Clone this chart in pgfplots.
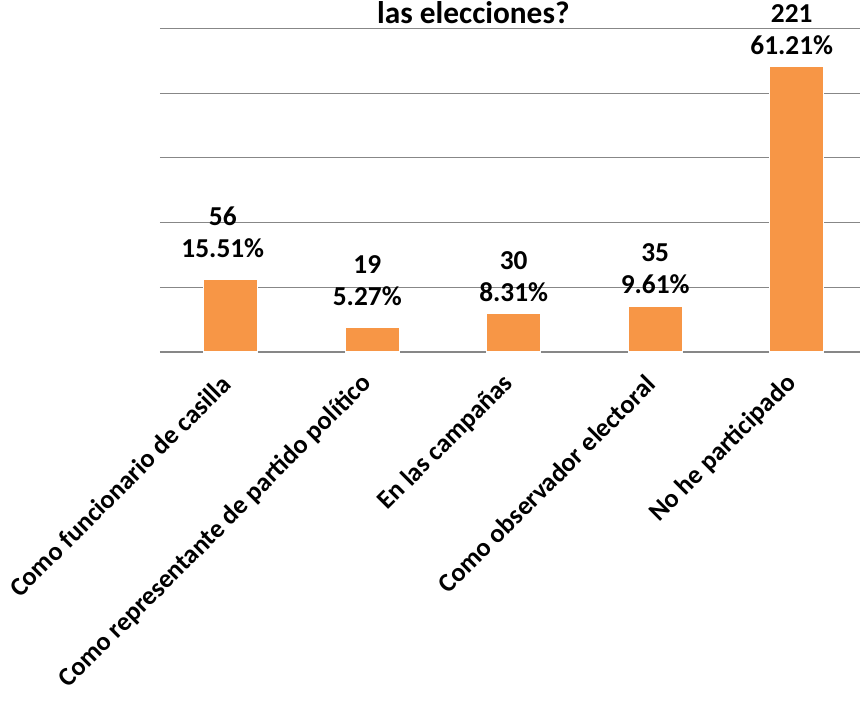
\documentclass[border=0pt]{standalone}
\usepackage{pgfplots}
\usepackage{pgfplotstable}
\pgfplotsset{compat=1.18}
\usepackage{fontspec}
\setmainfont{Carlito}
\definecolor{barorange}{HTML}{F79646}
\definecolor{gridgray}{HTML}{878787}
\pgfplotstableread{
x n pct gap dx
0 56 15.51 17 -0.056
1 19 5.27 17 -0.035
2 30 8.31 9.3 0
3 35 9.61 10 0
4 221 61.21 9.3 -0.035
}\datatable
\begin{document}
\begin{tikzpicture}
\begin{axis}[
  at={(0pt,0pt)}, anchor=south west,
  scale only axis,
  width=530.6pt, height=242.6pt,
  xmin=-0.5, xmax=4.5, ymin=0, ymax=250,
  axis lines*=left,
  separate axis lines,
  x axis line style={draw=gridgray, line width=0.8pt},
  y axis line style={draw=none},
  ytick={50,100,150,200,250},
  yticklabels={},
  major y tick style={draw=none},
  ymajorgrids,
  grid style={draw=gridgray, line width=0.8pt},
  xtick={0,1,2,3,4},
  xticklabels={Como funcionario de casilla, Como representante de partido político, En las campañas, Como observador electoral, No he participado},
  major x tick style={draw=none},
  extra x ticks={-0.5,0.5,1.5,2.5,3.5,4.5},
  extra x tick labels={},
  extra x tick style={major tick length=6pt, tick align=outside, xtick style={draw=gridgray, line width=0.8pt}, xmajorgrids=false},
  xticklabel style={yshift=-20.6pt, xshift=-3.4pt, rotate=45, anchor=east, inner sep=0pt, font=\bfseries\fontsize{19.7}{23}\selectfont},
  clip=false,
]
\addplot[ybar, bar width=40.5pt, fill=barorange, draw=white, line width=1pt] table[x=x, y=n] {\datatable};
\addplot[draw=none, mark=none, point meta=explicit symbolic,
  nodes near coords={\pgfplotspointmeta\%},
  nodes near coords style={anchor=base, inner sep=0pt, font=\bfseries\fontsize{20.5}{24}\selectfont, text=black},
] table[x expr=\thisrow{x}+\thisrow{dx}, y expr=\thisrow{n}+\thisrow{gap}, meta=pct] {\datatable};
\addplot[draw=none, mark=none, point meta=explicit symbolic,
  nodes near coords={\pgfplotspointmeta},
  nodes near coords style={anchor=base, inner sep=0pt, yshift=24pt, font=\bfseries\fontsize{20.5}{24}\selectfont, text=black},
] table[x expr=\thisrow{x}+\thisrow{dx}, y expr=\thisrow{n}+\thisrow{gap}, meta=n] {\datatable};
\end{axis}
\node[anchor=base, font=\bfseries\fontsize{23.5}{28}\selectfont] at (235pt,246.75pt) {las elecciones?};
\pgfresetboundingbox
\path[use as bounding box] (-120pt,-261.75pt) rectangle (525pt,264pt);
\end{tikzpicture}
\end{document}
